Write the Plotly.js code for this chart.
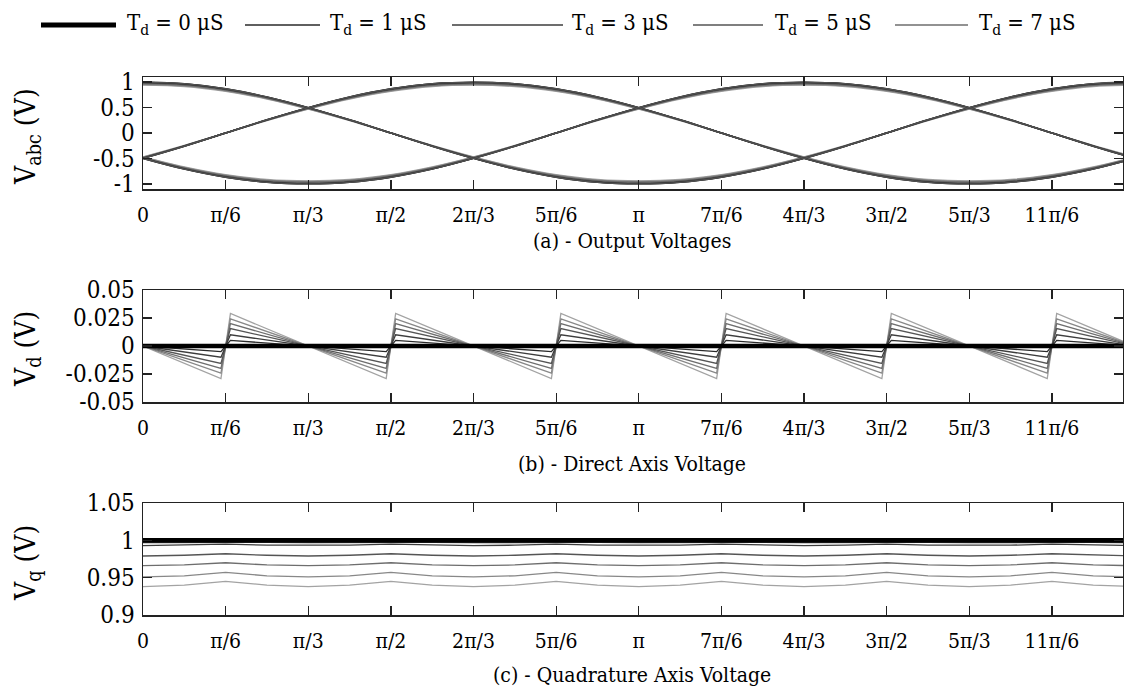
<!DOCTYPE html>
<html>
<head>
<meta charset="utf-8">
<script src="https://cdn.plot.ly/plotly-3.0.1.min.js"></script>
<style>
  html, body { margin: 0; padding: 0; background: #fff; }
  #chart { width: 1124px; height: 692px; }
</style>
</head>
<body>
<div id="chart"></div>
<script>
// ---- data ----------------------------------------------------------------
// dead-time cases (the last two are not listed in the key)
const deadTimes = ['0', '1', '3', '5', '7', '9', '11'];
const seriesColors = ['#000000', '#2a2a2a', '#3d3d3d', '#555555', '#6e6e6e', '#888888', '#a3a3a3'];
const inKey = [true, true, true, true, true, false, false];

// electrical angle (rad), steps of pi/12
const theta = [0, 0.2618, 0.5236, 0.7854, 1.0472, 1.3090, 1.5708, 1.8326, 2.0944, 2.3562,
  2.6180, 2.8798, 3.1416, 3.4034, 3.6652, 3.9270, 4.1888, 4.4506, 4.7124, 4.9742,
  5.2360, 5.4978, 5.7596, 6.0214, 6.2832];

// per-unit phase voltages
const phaseA = [1, 0.97, 0.87, 0.71, 0.5, 0.26, 0, -0.26, -0.5, -0.71, -0.87, -0.97, -1,
  -0.97, -0.87, -0.71, -0.5, -0.26, 0, 0.26, 0.5, 0.71, 0.87, 0.97, 1];
const phaseB = [-0.5, -0.26, 0, 0.26, 0.5, 0.71, 0.87, 0.97, 1, 0.97, 0.87, 0.71, 0.5,
  0.26, 0, -0.26, -0.5, -0.71, -0.87, -0.97, -1, -0.97, -0.87, -0.71, -0.5];
const phaseC = [-0.5, -0.71, -0.87, -0.97, -1, -0.97, -0.87, -0.71, -0.5, -0.26, 0, 0.26, 0.5,
  0.71, 0.87, 0.97, 1, 0.97, 0.87, 0.71, 0.5, 0.26, 0, -0.26, -0.5];
// output amplitude for each dead time
const vabcPeak = [1.0, 0.998, 0.994, 0.981, 0.968, 0.954, 0.941];

// direct-axis voltage: break points of the sawtooth (rad)
const vdTheta = [0, 0.494, 0.554, 1.047, 1.541, 1.601, 2.094, 2.588, 2.648, 3.142,
  3.635, 3.695, 4.189, 4.682, 4.742, 5.236, 5.730, 5.790, 6.283];
const vd0 = [0, 0, 0, 0, 0, 0, 0, 0, 0, 0, 0, 0, 0, 0, 0, 0, 0, 0, 0];
const vd1 = [0, -0.005, 0.005, 0, -0.005, 0.005, 0, -0.005, 0.005, 0, -0.005, 0.005, 0, -0.005, 0.005, 0, -0.005, 0.005, 0];
const vd2 = [0, -0.010, 0.010, 0, -0.010, 0.010, 0, -0.010, 0.010, 0, -0.010, 0.010, 0, -0.010, 0.010, 0, -0.010, 0.010, 0];
const vd3 = [0, -0.0155, 0.0155, 0, -0.0155, 0.0155, 0, -0.0155, 0.0155, 0, -0.0155, 0.0155, 0, -0.0155, 0.0155, 0, -0.0155, 0.0155, 0];
const vd4 = [0, -0.020, 0.020, 0, -0.020, 0.020, 0, -0.020, 0.020, 0, -0.020, 0.020, 0, -0.020, 0.020, 0, -0.020, 0.020, 0];
const vd5 = [0, -0.0243, 0.0243, 0, -0.0243, 0.0243, 0, -0.0243, 0.0243, 0, -0.0243, 0.0243, 0, -0.0243, 0.0243, 0, -0.0243, 0.0243, 0];
const vd6 = [0, -0.029, 0.029, 0, -0.029, 0.029, 0, -0.029, 0.029, 0, -0.029, 0.029, 0, -0.029, 0.029, 0, -0.029, 0.029, 0];
const vdSeries = [vd0, vd1, vd2, vd3, vd4, vd5, vd6];

// quadrature-axis voltage on the pi/12 grid
const vq0 = [1, 1, 1, 1, 1, 1, 1, 1, 1, 1, 1, 1, 1, 1, 1, 1, 1, 1, 1, 1, 1, 1, 1, 1, 1];
const vq1 = [0.997, 0.9973, 0.998, 0.9973, 0.997, 0.9973, 0.998, 0.9973, 0.997, 0.9973, 0.998, 0.9973, 0.997,
  0.9973, 0.998, 0.9973, 0.997, 0.9973, 0.998, 0.9973, 0.997, 0.9973, 0.998, 0.9973, 0.997];
const vq2 = [0.993, 0.9935, 0.995, 0.9935, 0.993, 0.9935, 0.995, 0.9935, 0.993, 0.9935, 0.995, 0.9935, 0.993,
  0.9935, 0.995, 0.9935, 0.993, 0.9935, 0.995, 0.9935, 0.993, 0.9935, 0.995, 0.9935, 0.993];
const vq3 = [0.979, 0.980, 0.982, 0.980, 0.979, 0.980, 0.982, 0.980, 0.979, 0.980, 0.982, 0.980, 0.979,
  0.980, 0.982, 0.980, 0.979, 0.980, 0.982, 0.980, 0.979, 0.980, 0.982, 0.980, 0.979];
const vq4 = [0.966, 0.967, 0.970, 0.967, 0.966, 0.967, 0.970, 0.967, 0.966, 0.967, 0.970, 0.967, 0.966,
  0.967, 0.970, 0.967, 0.966, 0.967, 0.970, 0.967, 0.966, 0.967, 0.970, 0.967, 0.966];
const vq5 = [0.951, 0.9525, 0.957, 0.9525, 0.951, 0.9525, 0.957, 0.9525, 0.951, 0.9525, 0.957, 0.9525, 0.951,
  0.9525, 0.957, 0.9525, 0.951, 0.9525, 0.957, 0.9525, 0.951, 0.9525, 0.957, 0.9525, 0.951];
const vq6 = [0.938, 0.940, 0.945, 0.940, 0.938, 0.940, 0.945, 0.940, 0.938, 0.940, 0.945, 0.940, 0.938,
  0.940, 0.945, 0.940, 0.938, 0.940, 0.945, 0.940, 0.938, 0.940, 0.945, 0.940, 0.938];
const vqSeries = [vq0, vq1, vq2, vq3, vq4, vq5, vq6];

// axis ticks
const xTickText = ['0', 'π/6', 'π/3', 'π/2', '2π/3', '5π/6', 'π', '7π/6', '4π/3', '3π/2', '5π/3', '11π/6'];
const vabcTicks = [-1, -0.5, 0, 0.5, 1];
const vabcTickText = ['-1', '-0.5', '0', '0.5', '1'];
const vdTicks = [-0.05, -0.025, 0, 0.025, 0.05];
const vdTickText = ['-0.05', '-0.025', '0', '0.025', '0.05'];
const vqTicks = [0.9, 0.95, 1, 1.05];
const vqTickText = ['0.9', '0.95', '1', '1.05'];

// ---- traces ----------------------------------------------------------------
const FONT = 'DejaVu Serif Condensed, DejaVu Serif';
const traces = [];

// (a) phase voltages, lightest case first so the nominal case sits on top
for (let s = deadTimes.length - 1; s >= 0; s--) {
  [phaseA, phaseB, phaseC].forEach(function (ph) {
    traces.push({
      x: theta, y: ph.map(function (v) { return v * vabcPeak[s]; }),
      xaxis: 'x', yaxis: 'y', type: 'scatter', mode: 'lines',
      line: { color: s === 0 ? '#505050' : seriesColors[s], width: 1.4, shape: 'spline', smoothing: 1 },
      name: 'T_d = ' + deadTimes[s] + ' μS', showlegend: false, hoverinfo: 'skip'
    });
  });
}
// (b) direct-axis voltage
for (let s = deadTimes.length - 1; s >= 0; s--) {
  traces.push({
    x: vdTheta, y: vdSeries[s], xaxis: 'x2', yaxis: 'y2', type: 'scatter', mode: 'lines',
    line: { color: seriesColors[s], width: s === 0 ? 4.5 : 1.3 },
    name: 'T_d = ' + deadTimes[s] + ' μS', showlegend: false
  });
}
// (c) quadrature-axis voltage
for (let s = deadTimes.length - 1; s >= 0; s--) {
  traces.push({
    x: theta, y: vqSeries[s], xaxis: 'x3', yaxis: 'y3', type: 'scatter', mode: 'lines',
    line: { color: seriesColors[s], width: s === 0 ? 4.5 : 1.3 },
    name: 'T_d = ' + deadTimes[s] + ' μS', showlegend: false
  });
}

// ---- layout ----------------------------------------------------------------
const W = 1124, H = 692;
const M = { l: 143, r: 1, t: 77, b: 77 };
const plotW = W - M.l - M.r, plotH = H - M.t - M.b;
const px = function (x) { return (x - M.l) / plotW; };
const py = function (y) { return (H - M.b - y) / plotH; };

const xTickVals = xTickText.map(function (_, k) { return k * Math.PI / 6; });

function xAxis(anchor) {
  return {
    anchor: anchor, domain: [0, 1], range: [0, 6.21],
    tickmode: 'array', tickvals: xTickVals, ticktext: xTickText,
    ticks: 'inside', ticklen: 9, tickwidth: 1.3, tickcolor: '#222',
    showline: true, linecolor: '#222', linewidth: 1.5, mirror: 'ticks',
    showgrid: false, zeroline: false, ticklabelstandoff: 6,
    tickfont: { family: FONT, size: 21, color: '#000' }
  };
}
function yAxis(anchor, domain, range, vals, text) {
  return {
    anchor: anchor, domain: domain, range: range,
    tickmode: 'array', tickvals: vals, ticktext: text,
    ticks: 'inside', ticklen: 9, tickwidth: 1.3, tickcolor: '#222',
    showline: true, linecolor: '#222', linewidth: 1.5, mirror: 'ticks',
    showgrid: false, zeroline: false, ticklabelstandoff: 2,
    tickfont: { family: FONT, size: 24, color: '#000' }
  };
}

const annotations = [];
const shapes = [];
function label(text, x, y, opts) {
  annotations.push(Object.assign({
    text: text, xref: 'paper', yref: 'paper', x: px(x), y: py(y),
    showarrow: false, xanchor: 'center', yanchor: 'middle',
    font: { family: FONT, size: 21, color: '#000' }
  }, opts || {}));
}

// panel captions
label('(a) - Output Voltages', 632, 241);
label('(b) - Direct Axis Voltage', 632, 464);
label('(c) - Quadrature Axis Voltage', 632, 675);

// vertical axis names
label('V<sub>abc</sub> (V)', 27, 137, { textangle: -90, font: { family: FONT, size: 28, color: '#000' } });
label('V<sub>d</sub> (V)', 27, 349, { textangle: -90, font: { family: FONT, size: 28, color: '#000' } });
label('V<sub>q</sub> (V)', 27, 563, { textangle: -90, font: { family: FONT, size: 28, color: '#000' } });

// key across the top
const keyLines = [[41, 116], [245, 320], [452, 563], [693, 763], [895, 968]];
const keyText = [125, 328, 570, 773, 977];
let k = 0;
deadTimes.forEach(function (td, s) {
  if (!inKey[s]) return;
  shapes.push({
    type: 'line', xref: 'paper', yref: 'paper',
    x0: px(keyLines[k][0]), x1: px(keyLines[k][1]), y0: py(25), y1: py(25),
    line: { color: seriesColors[s], width: s === 0 ? 5 : 1.5 }
  });
  label('T<sub>d</sub> = ' + td + ' μS', keyText[k], 25, { xanchor: 'left', font: { family: FONT, size: 22, color: '#000' } });
  k++;
});

const layout = {
  width: W, height: H, margin: M,
  paper_bgcolor: '#fff', plot_bgcolor: '#fff',
  showlegend: false,
  font: { family: FONT, size: 21, color: '#000' },
  xaxis: xAxis('y'),
  xaxis2: xAxis('y2'),
  xaxis3: xAxis('y3'),
  yaxis: yAxis('x', [py(189), py(77)], [-1.1, 1.1], vabcTicks, vabcTickText),
  yaxis2: yAxis('x2', [py(402), py(290)], [-0.05, 0.05], vdTicks, vdTickText),
  yaxis3: yAxis('x3', [py(615), py(503)], [0.9, 1.05], vqTicks, vqTickText),
  annotations: annotations,
  shapes: shapes
};

Plotly.newPlot('chart', traces, layout, { staticPlot: true, displayModeBar: false });
</script>
</body>
</html>
